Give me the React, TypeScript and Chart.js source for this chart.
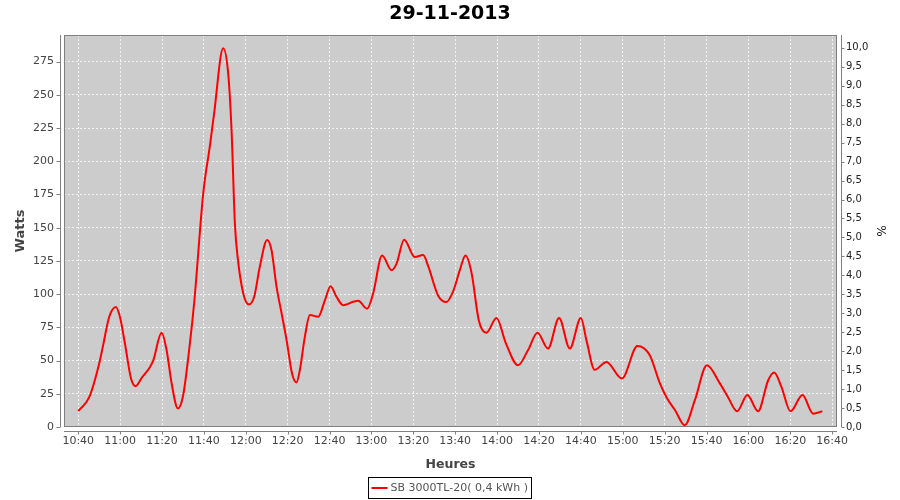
import React, { useEffect, useRef } from 'react';
import { Chart, registerables } from 'chart.js';

Chart.register(...registerables);

const TITLE = '29-11-2013';
const SERIES_LABEL = 'SB 3000TL-20( 0,4 kWh )';
const X_TITLE = 'Heures';
const Y_TITLE = 'Watts';
const Y1_TITLE = '%';
const START_MINUTES = 10 * 60 + 40; // 10:40

// minutes after 10:40
const MINUTES = [
  0, 5.3, 9.9, 11.9, 14.8, 18.0, 19.9, 22.3, 25.2, 27.4, 30.3, 34.2, 35.8,
  39.8, 42.2, 44.6, 47.6, 50.1, 53.3, 55.4, 59.7, 62.9, 64.8, 69.2, 71.6, 73.2,
  74.8, 76.1, 78.8, 81.5, 84.0, 86.7, 90.2, 92.3, 94.7, 97.1, 99.5, 102.1,
  104.2, 105.8, 108.2, 110.6, 114.6, 117.8, 120.5, 123.3, 126.5, 131.3, 133.7,
  137.9, 140.8, 145.1, 149.6, 152.0, 155.6, 160.7, 164.7, 167.1, 171.8, 175.8,
  179.0, 182.2, 184.9, 187.8, 191.3, 194.9, 199.7, 204.2, 210.0, 214.8, 219.3,
  224.3, 229.6, 234.7, 240.0, 242.7, 246.6, 252.2, 259.6, 267.0, 272.9, 277.7,
  281.0, 285.0, 289.6, 294.4, 300.2, 306.3, 310.2, 314.6, 319.5, 324.6, 329.4,
  332.3, 335.8, 340.1, 345.8, 350.9, 355.3,
];

const WATTS = [
  11.9, 22.6, 47, 61.6, 83, 90.4, 83, 62.8, 36.5, 30.7, 37, 45, 50,
  71, 57.8, 32.7, 13.9, 23.9, 62.8, 94.2, 176, 212, 235, 285, 266, 223.6,
  153, 128, 100.5, 92.2, 98, 120.6, 140.7, 133, 105.5, 85.5, 65.3, 40.2,
  33.5, 42.7, 67.8, 84.2, 83, 95.5, 106, 98, 91.7, 94.2, 95,
  89, 100.5, 129, 118, 123, 141, 128, 129.4, 121, 99, 94,
  102, 118, 129, 116, 80, 71, 82, 63, 46.5, 58, 71,
  59, 82, 59, 82, 65, 43, 49, 36.5, 61, 54, 33,
  22, 12.6, 1.3, 20, 46.5, 33, 22.6, 11.8, 24, 11.8, 35,
  41, 30, 11.8, 24, 10, 11.8,
];

const X_TICKS = [0, 20, 40, 60, 80, 100, 120, 140, 160, 180, 200, 220, 240, 260, 280, 300, 320, 340, 360];
const W_TICKS = [0, 25, 50, 75, 100, 125, 150, 175, 200, 225, 250, 275];
const PCT_TICKS = [0, 0.5, 1, 1.5, 2, 2.5, 3, 3.5, 4, 4.5, 5, 5.5, 6, 6.5, 7, 7.5, 8, 8.5, 9, 9.5, 10];

const FONT = '"DejaVu Sans", sans-serif';

function fmtTime(offset: number): string {
  const t = Math.round(START_MINUTES + offset);
  const h = Math.floor(t / 60);
  const m = t % 60;
  return `${h < 10 ? '0' : ''}${h}:${m < 10 ? '0' : ''}${m}`;
}

const decorPlugin = {
  id: 'decor',
  beforeDraw(chart: any) {
    const { ctx, chartArea: a } = chart;
    ctx.save();
    ctx.fillStyle = '#ffffff';
    ctx.fillRect(0, 0, chart.width, chart.height);
    ctx.fillStyle = '#cccccc';
    ctx.fillRect(a.left, a.top, a.right - a.left, a.bottom - a.top);
    ctx.restore();
  },
  afterDraw(chart: any) {
    const { ctx, chartArea: a, scales } = chart;
    ctx.save();
    ctx.strokeStyle = '#7f7f7f';
    ctx.lineWidth = 1;
    ctx.strokeRect(a.left + 0.5, a.top + 0.5, a.right - a.left - 1, a.bottom - a.top - 1);

    const seg = (x1: number, y1: number, x2: number, y2: number) => {
      ctx.beginPath();
      ctx.moveTo(x1, y1);
      ctx.lineTo(x2, y2);
      ctx.stroke();
    };
    ctx.strokeStyle = '#808080';
    // left axis
    const xl = a.left - 4 + 0.5;
    seg(xl, a.top, xl, a.bottom);
    scales.y.ticks.forEach((_t: any, i: number) => {
      const py = Math.round(scales.y.getPixelForTick(i)) + 0.5;
      seg(xl - 4, py, xl, py);
    });
    // right axis
    const xr = a.right + 4 + 0.5;
    seg(xr, a.top, xr, a.bottom);
    scales.y1.ticks.forEach((_t: any, i: number) => {
      const py = Math.round(scales.y1.getPixelForTick(i)) + 0.5;
      seg(xr, py, xr + 3, py);
    });
    // bottom axis
    const yb = a.bottom + 4 + 0.5;
    seg(a.left, yb, a.right, yb);
    scales.x.ticks.forEach((_t: any, i: number) => {
      const px = Math.round(scales.x.getPixelForTick(i)) + 0.5;
      seg(px, yb, px, yb + 3);
    });

    // legend
    const ds = chart.data.datasets[0];
    ctx.font = `11px ${FONT}`;
    const tw = ctx.measureText(ds.label).width;
    const lineLen = 16;
    const boxW = 3 + lineLen + 3 + tw + 4;
    const boxH = 21;
    const bx = Math.round(chart.width / 2 - boxW / 2) + 0.5;
    const by = 477.5;
    ctx.strokeStyle = '#000000';
    ctx.lineWidth = 1;
    ctx.strokeRect(bx, by, Math.round(boxW), boxH);
    const cy = by + boxH / 2;
    ctx.strokeStyle = ds.borderColor;
    ctx.lineWidth = 2;
    seg(bx + 3, cy, bx + 3 + lineLen, cy);
    ctx.fillStyle = '#555555';
    ctx.textBaseline = 'middle';
    ctx.textAlign = 'left';
    ctx.fillText(ds.label, bx + 3 + lineLen + 3, cy);
    ctx.restore();
  },
};

export default function App() {
  const ref = useRef<HTMLCanvasElement | null>(null);

  useEffect(() => {
    if (!ref.current) return;
    const chart = new Chart(ref.current, {
      type: 'line',
      data: {
        datasets: [
          {
            label: SERIES_LABEL,
            data: MINUTES.map((m, i) => ({ x: m, y: WATTS[i] })),
            borderColor: '#ff0000',
            backgroundColor: '#ff0000',
            borderWidth: 2,
            pointRadius: 0,
            cubicInterpolationMode: 'monotone',
            fill: false,
            yAxisID: 'y',
          },
        ],
      },
      options: {
        responsive: false,
        animation: false,
        devicePixelRatio: 1,
        layout: { padding: { left: 0, right: 0, top: 0, bottom: 28 } },
        plugins: {
          legend: { display: false },
          tooltip: { enabled: false },
          title: {
            display: true,
            text: TITLE,
            color: '#000000',
            font: { family: FONT, size: 19, weight: 'bold', lineHeight: 1.2 },
            padding: { top: 3, bottom: 9.2 },
          },
        },
        scales: {
          x: {
            type: 'linear',
            min: -6.8,
            max: 362.3,
            afterFit: (s: any) => { s.height = 45; },
            afterBuildTicks: (s: any) => { s.ticks = X_TICKS.map((v) => ({ value: v })); },
            ticks: {
              callback: (v: any) => fmtTime(Number(v)),
              color: '#444444',
              font: { family: FONT, size: 11 },
              padding: 8,
              maxRotation: 0,
              autoSkip: false,
            },
            grid: { color: 'rgba(255,255,255,0.75)', lineWidth: 1, drawTicks: false },
            border: { display: false, dash: [2, 2] },
            title: {
              display: true,
              text: X_TITLE,
              color: '#444444',
              font: { family: FONT, size: 12.5, weight: 'bold', lineHeight: 1.2 },
              padding: { top: 4, bottom: 0 },
            },
          },
          y: {
            position: 'left',
            min: 0,
            max: 295,
            afterFit: (s: any) => { s.width = 64; },
            afterBuildTicks: (s: any) => { s.ticks = W_TICKS.map((v) => ({ value: v })); },
            ticks: {
              callback: (v: any) => String(v),
              color: '#444444',
              font: { family: FONT, size: 11 },
              padding: 10,
            },
            grid: { color: 'rgba(255,255,255,0.75)', lineWidth: 1, drawTicks: false },
            border: { display: false, dash: [2, 2] },
            title: {
              display: true,
              text: Y_TITLE,
              color: '#444444',
              font: { family: FONT, size: 13, weight: 'bold', lineHeight: 1.2 },
              padding: { top: 13, bottom: 0 },
            },
          },
          y1: {
            position: 'right',
            min: 0,
            max: 10.34,
            afterFit: (s: any) => { s.width = 63; },
            afterBuildTicks: (s: any) => { s.ticks = PCT_TICKS.map((v) => ({ value: v })); },
            ticks: {
              callback: (v: any) => Number(v).toFixed(1).replace('.', ','),
              color: '#222222',
              font: { family: FONT, size: 10 },
              padding: 9,
            },
            grid: { display: false, drawTicks: false },
            border: { display: false },
            title: {
              display: true,
              text: Y1_TITLE,
              color: '#222222',
              font: { family: FONT, size: 12, lineHeight: 1.2 },
              padding: { top: 12.8, bottom: 0 },
            },
          },
        },
      } as any,
      plugins: [decorPlugin],
    });
    return () => chart.destroy();
  }, []);

  return (
    <div style={{ position: 'absolute', left: 0, top: 0, width: 900, height: 500 }}>
      <canvas ref={ref} width={900} height={500} style={{ display: 'block' }} />
    </div>
  );
}
